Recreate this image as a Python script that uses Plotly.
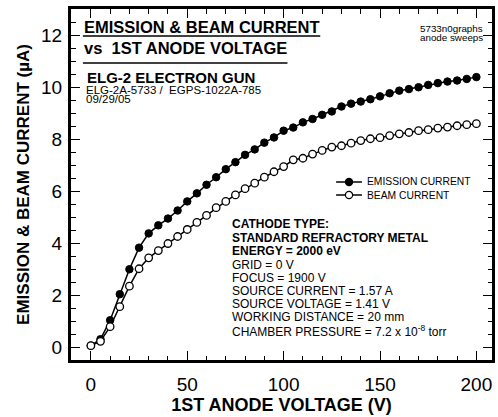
import plotly.graph_objects as go

voltage = [0, 5, 10, 15, 20, 25, 30, 35, 40, 45, 50, 55, 60, 65, 70, 75, 80, 85, 90, 95,
           100, 105, 110, 115, 120, 125, 130, 135, 140, 145, 150, 155, 160, 165, 170, 175,
           180, 185, 190, 195, 200]
emission_current = [0.05, 0.30, 1.03, 2.03, 2.99, 3.82, 4.37, 4.68, 4.94, 5.25, 5.60, 5.91,
                    6.24, 6.53, 6.84, 7.11, 7.39, 7.60, 7.86, 8.06, 8.32, 8.44, 8.64, 8.77,
                    8.93, 9.06, 9.25, 9.36, 9.44, 9.53, 9.64, 9.76, 9.86, 9.92, 9.99, 10.08,
                    10.15, 10.21, 10.25, 10.31, 10.38]
beam_current = [0.05, 0.22, 0.78, 1.55, 2.34, 3.01, 3.43, 3.71, 3.98, 4.25, 4.52, 4.79,
                5.06, 5.36, 5.60, 5.85, 6.09, 6.30, 6.53, 6.74, 6.94, 7.20, 7.26, 7.42,
                7.56, 7.69, 7.74, 7.84, 7.94, 8.01, 8.05, 8.13, 8.20, 8.25, 8.32, 8.36,
                8.42, 8.46, 8.51, 8.55, 8.59]
series_names = ["EMISSION CURRENT", "BEAM CURRENT"]
x_ticks = [0, 50, 100, 150, 200]
y_ticks = [0, 2, 4, 6, 8, 10, 12]
title_lines = ["EMISSION & BEAM CURRENT", "vs  1ST ANODE VOLTAGE"]
subtitle = "ELG-2 ELECTRON GUN"
detail_lines = ["ELG-2A-5733 /  EGPS-1022A-785", "09/29/05"]
corner_note = ["5733n0graphs", "anode sweeps"]
info_bold = ["CATHODE TYPE:", "STANDARD REFRACTORY METAL", "ENERGY = 2000 eV"]
info_regular = ["GRID = 0 V", "FOCUS = 1900 V", "SOURCE CURRENT = 1.57 A",
                "SOURCE VOLTAGE = 1.41 V", "WORKING DISTANCE = 20 mm",
                "CHAMBER PRESSURE = 7.2 x 10<sup>-8</sup> torr"]

FONT = "Liberation Sans, Arial, sans-serif"
W, H = 498, 417
ML, MR, MT, MB = 71, 3, 9, 57
PW, PH = W - ML - MR, H - MT - MB


def px(x):
    return (x - ML) / PW


def py(y):
    return (H - MB - y) / PH


fig = go.Figure()
fig.add_trace(go.Scatter(
    x=voltage, y=emission_current, mode="lines+markers", name=series_names[0],
    line=dict(color="black", width=1.5),
    marker=dict(symbol="circle", size=7.5, color="black", line=dict(color="black", width=1)),
    showlegend=False))
fig.add_trace(go.Scatter(
    x=voltage, y=beam_current, mode="lines+markers", name=series_names[1],
    line=dict(color="black", width=1.5),
    marker=dict(symbol="circle", size=7.5, color="white", line=dict(color="black", width=1.3)),
    showlegend=False))

annotations = []
shapes = []


def add_text(text, x, y, size, bold=False, anchor="left"):
    annotations.append(dict(
        text=("<b>%s</b>" % text) if bold else text,
        x=px(x), y=py(y), xref="paper", yref="paper",
        xanchor=anchor, yanchor="middle", showarrow=False,
        font=dict(family=FONT, size=size, color="black")))


# titles
add_text(title_lines[0], 82, 27, 16.5, bold=True)
add_text(title_lines[1], 82, 48, 16.5, bold=True)
shapes.append(dict(type="line", xref="paper", yref="paper", x0=px(83), x1=px(322),
                   y0=py(36), y1=py(36), line=dict(color="black", width=1.3)))
shapes.append(dict(type="line", xref="paper", yref="paper", x0=px(83), x1=px(289),
                   y0=py(63), y1=py(63), line=dict(color="black", width=1.3)))
add_text(subtitle, 85, 77, 15, bold=True)
add_text(detail_lines[0], 84, 90, 11.5)
add_text(detail_lines[1], 84, 99, 11.5)
add_text(corner_note[0], 488, 29, 9.8, anchor="right")
add_text(corner_note[1], 488, 38, 9.8, anchor="right")

# info block
yy = 224
for t in info_bold:
    add_text(t, 231, yy, 12, bold=True)
    yy += 13.5
yy = 265
for t in info_regular:
    add_text(t, 231, yy, 12)
    yy += 13.1

# manual legend
for i, (name, fill) in enumerate(zip(series_names, ["black", "white"])):
    ly = 182 + 13 * i
    shapes.append(dict(type="line", xref="paper", yref="paper", x0=px(338), x1=px(364),
                       y0=py(ly), y1=py(ly), line=dict(color="black", width=1.5)))
    shapes.append(dict(type="circle", xref="paper", yref="paper",
                       xsizemode="pixel", ysizemode="pixel",
                       xanchor=px(351), yanchor=py(ly),
                       x0=-3.6, x1=3.6, y0=-3.6, y1=3.6,
                       fillcolor=fill, line=dict(color="black", width=1.2)))
    add_text(name, 367, ly, 10.3)

axis_common = dict(
    showline=True, linewidth=3, linecolor="black", mirror="ticks",
    ticks="inside", ticklen=9, tickwidth=1.2, tickcolor="black",
    showgrid=False, zeroline=False,
    tickfont=dict(family=FONT, size=19, color="black"),
)

fig.update_layout(
    width=W, height=H,
    margin=dict(l=ML, r=MR, t=MT, b=MB),
    paper_bgcolor="white", plot_bgcolor="white",
    font=dict(family=FONT, color="black"),
    xaxis=dict(range=[-10.3, 208.1], tickvals=x_ticks,
               minor=dict(dtick=10, tick0=0, ticks="inside", ticklen=4.5, tickwidth=1.2,
                          tickcolor="black", showgrid=False),
               ticklabelstandoff=5,
               title=dict(text="<b>1ST ANODE VOLTAGE (V)</b>",
                          font=dict(family=FONT, size=18, color="black"), standoff=2),
               **axis_common),
    yaxis=dict(range=[-0.5, 13.0], tickvals=y_ticks,
               minor=dict(dtick=0.5, tick0=0, ticks="inside", ticklen=4.5, tickwidth=1.2,
                          tickcolor="black", showgrid=False),
               ticklabelstandoff=2,
               title=dict(text="<b>EMISSION & BEAM CURRENT (\u00b5A)</b>",
                          font=dict(family=FONT, size=17, color="black"), standoff=8),
               **axis_common),
    annotations=annotations,
    shapes=shapes,
)

fig.write_html("out.html", config={"displayModeBar": False},
               post_script="document.body.style.margin='0px';document.body.style.padding='0px';")
